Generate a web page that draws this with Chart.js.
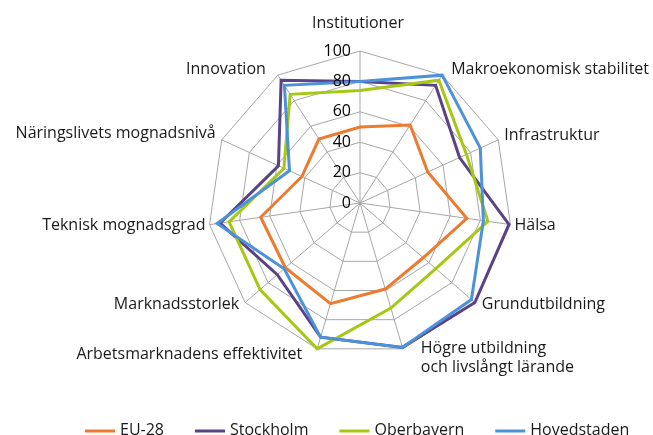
<!DOCTYPE html>
<html><head><meta charset="utf-8">
<script src="https://cdn.jsdelivr.net/npm/chart.js@4"></script>
<style>html,body{margin:0;padding:0;background:#fff}#c{display:block}</style>
</head><body>
<canvas id="c" width="653" height="435"></canvas>
<script>
const categories = ['Institutioner', 'Makroekonomisk stabilitet', 'Infrastruktur', 'Hälsa', 'Grundutbildning',
  ['Högre utbildning', 'och livslångt lärande'], 'Arbetsmarknadens effektivitet', 'Marknadsstorlek',
  'Teknisk mognadsgrad', 'Näringslivets mognadsnivå', 'Innovation'];
const tickValues = [0, 20, 40, 60, 80, 100];
const seriesNames = ['EU-28', 'Stockholm', 'Oberbayern', 'Hovedstaden'];
const eu28 = [50, 61, 49, 71, 55, 59, 69, 65, 66, 42, 50];
const stockholm = [80, 92, 72, 99, 100, 99, 92, 72, 93, 59, 96];
const oberbayern = [74, 96, 77, 85, 66, 72, 100, 87, 87, 55, 85];
const hovedstaden = [80, 100, 87, 82, 97, 99, 92, 66, 95, 51, 92];

const seriesValues = [eu28, stockholm, oberbayern, hovedstaden];
const colors = ['#EE7A30', '#5A4287', '#A6C812', '#4C92DA'];
const FONT = '"Open Sans", sans-serif';

// text placement offsets relative to the outer vertex of each axis
const labelLayout = [
  {dx: -2, dy: -28, align: 'center'},
  {dx: 9, dy: -6, align: 'left'},
  {dx: 6, dy: -4, align: 'left'},
  {dx: 4, dy: 1, align: 'left'},
  {dx: 7, dy: 2, align: 'left'},
  {dx: 18, dy: 0, align: 'left'},
  {dx: -15, dy: 6, align: 'right'},
  {dx: -6, dy: 2, align: 'right'},
  {dx: -4, dy: 1, align: 'right'},
  {dx: -6, dy: -6, align: 'right'},
  {dx: -12, dy: -6, align: 'right'}
];

const textPlugin = {
  id: 'textPlugin',
  afterDatasetsDraw(chart) {
    const s = chart.scales.r;
    const ctx = chart.ctx;
    ctx.save();
    ctx.font = '16px ' + FONT;
    ctx.fillStyle = '#1a1a1a';
    ctx.textBaseline = 'middle';
    // axis labels
    categories.forEach((lab, i) => {
      const p = s.getPointPosition(i, s.drawingArea);
      const L = labelLayout[i];
      ctx.textAlign = L.align;
      const lines = Array.isArray(lab) ? lab : [lab];
      lines.forEach((t, k) => ctx.fillText(t, p.x + L.dx, p.y + L.dy + k * 18.5));
    });
    // tick labels
    ctx.fillStyle = '#000';
    ctx.textAlign = 'right';
    tickValues.forEach(v => {
      const d = s.getDistanceFromCenterForValue(v);
      ctx.fillText(String(v), s.xCenter - 9, s.yCenter - d);
    });
    // legend
    const ly = 431;
    let x = 85;
    ctx.textAlign = 'left';
    ctx.fillStyle = '#1a1a1a';
    chart.data.datasets.forEach((ds, i) => {
      ctx.strokeStyle = ds.borderColor;
      ctx.lineWidth = 3;
      ctx.beginPath();
      ctx.moveTo(x, ly);
      ctx.lineTo(x + 30, ly);
      ctx.stroke();
      ctx.fillText(ds.label, x + 35, ly - 1);
      x += 35 + ctx.measureText(ds.label).width + 31;
    });
    ctx.restore();
  }
};

new Chart(document.getElementById('c'), {
  type: 'radar',
  data: {
    labels: categories,
    datasets: seriesNames.map((n, i) => ({
      label: n,
      data: seriesValues[i],
      borderColor: colors[i],
      backgroundColor: colors[i],
      borderWidth: 3,
      fill: false,
      pointRadius: 0,
      pointHoverRadius: 0,
      borderJoinStyle: 'miter',
      order: 3 - i
    }))
  },
  options: {
    responsive: false,
    animation: false,
    devicePixelRatio: 1,
    layout: {padding: {left: 208, right: 141, top: 51, bottom: 80}},
    plugins: {legend: {display: false}, tooltip: {enabled: false}},
    scales: {
      r: {
        min: 0, max: 100,
        ticks: {display: false, stepSize: 20},
        pointLabels: {display: false},
        grid: {color: '#a6a6a6', lineWidth: 1},
        angleLines: {color: '#a6a6a6', lineWidth: 1}
      }
    }
  },
  plugins: [textPlugin]
});
</script>
</body></html>
